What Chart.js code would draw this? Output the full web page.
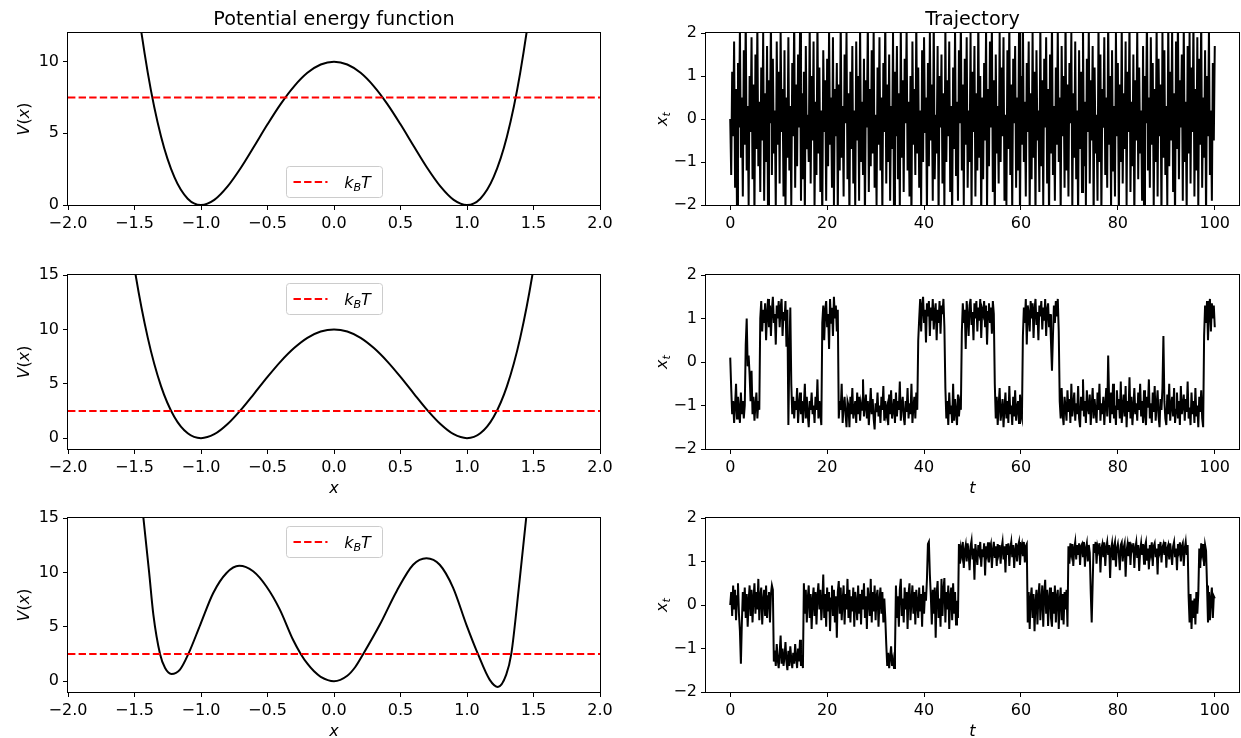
<!DOCTYPE html>
<html>
<head>
<meta charset="utf-8">
<script src="https://cdn.jsdelivr.net/npm/chart.js@4.4.1/dist/chart.umd.min.js"></script>
<style>
  html, body { margin: 0; padding: 0; background: #fff; overflow: hidden; }
  #fig { position: relative; width: 1241px; height: 738px; overflow: hidden; }
  canvas { position: absolute; }
</style>
</head>
<body>
<div id="fig">
  <canvas id="pot1" width="620" height="245" style="left:0;top:0"></canvas>
  <canvas id="traj1" width="601" height="245" style="left:640px;top:0"></canvas>
  <canvas id="pot2" width="620" height="255" style="left:0;top:245px"></canvas>
  <canvas id="traj2" width="601" height="255" style="left:640px;top:245px"></canvas>
  <canvas id="pot3" width="620" height="248" style="left:0;top:500px"></canvas>
  <canvas id="traj3" width="601" height="248" style="left:640px;top:500px"></canvas>
</div>
<script>
const wellX = [-1.6, -1.5, -1.4, -1.3, -1.2, -1.1, -1.0, -0.9, -0.8, -0.7, -0.6, -0.5, -0.4, -0.3, -0.2, -0.1, 0,
  0.1, 0.2, 0.3, 0.4, 0.5, 0.6, 0.7, 0.8, 0.9, 1.0, 1.1, 1.2, 1.3, 1.4, 1.5, 1.6];
const wellV = [24.34, 15.63, 9.22, 4.76, 1.94, 0.44, 0, 0.36, 1.30, 2.60, 4.10, 5.63, 7.06, 8.28, 9.22, 9.80, 10,
  9.80, 9.22, 8.28, 7.06, 5.63, 4.10, 2.60, 1.30, 0.36, 0, 0.44, 1.94, 4.76, 9.22, 15.63, 24.34];

const tripleX = [-1.5, -1.433, -1.39, -1.358, -1.308, -1.27, -1.222, -1.158, -1.095, -1.005, -0.908, -0.808, -0.713,
  -0.608, -0.508, -0.408, -0.308, -0.25, -0.2, -0.15, -0.1, 0, 0.1, 0.16, 0.22, 0.345, 0.47, 0.595, 0.695, 0.795, 0.895,
  0.995, 1.082, 1.17, 1.232, 1.295, 1.333, 1.395, 1.445, 1.5];
const tripleV = [22, 15, 10, 6.1, 2.5, 1.2, 0.66, 1.06, 2.5, 5.2, 8.1, 9.94, 10.6,
  10.1, 8.7, 6.6, 3.8, 2.5, 1.6, 0.9, 0.4, 0, 0.5, 1.3, 2.5, 5.2, 8.25, 10.7, 11.3, 10.7, 8.6,
  5.2, 2.5, 0.14, -0.53, 0.6, 2.5, 9.2, 15, 22];

const kT = [7.5, 2.5, 2.5];

// trajectories x_t, evenly sampled from t = 0 to t = 100
const traj1 = [
  0.0, -1.3, 1.1, -0.4, 1.8, -1.6, 0.7, -2.2, 1.3, -0.2,
  2.1, -0.9, 0.5, -1.8, 1.6, -0.6, 2.4, -1.2, 0.3, -2.0,
  1.0, -0.3, 1.9, -1.4, 0.8, -2.3, 1.5, -0.7, 2.2, -1.1,
  0.4, -1.7, 1.2, -0.5, 2.0, -1.9, 0.6, -1.0, 1.7, -2.4,
  0.9, -0.1, 2.3, -1.3, 1.4, -0.8, 0.2, -2.1, 1.8, -0.6,
  1.1, -1.5, 2.1, -0.3, 0.7, -1.8, 1.6, -2.2, 0.5, -0.9,
  1.9, -1.2, 0.3, -2.0, 1.3, -0.4, 2.4, -1.6, 0.8, -1.1,
  1.5, -0.2, 2.0, -1.9, 0.6, -1.4, 1.1, -2.3, 1.7, -0.7,
  0.1, -1.0, 2.2, -1.5, 1.0, -0.5, 1.8, -2.1, 0.4, -1.3,
  2.3, -0.8, 1.2, -1.7, 0.2, -2.4, 1.6, -0.3, 0.9, -1.9,
  1.4, -1.1, 2.1, -0.6, 0.5, -1.6, 1.9, -2.0, 0.7, -0.4,
  1.3, -2.2, 0.8, -1.2, 2.4, -0.9, 0.3, -1.8, 1.5, -0.1,
  2.0, -1.4, 0.6, -2.3, 1.1, -0.7, 1.7, -1.5, 0.2, -2.1,
  1.8, -0.5, 1.0, -1.9, 2.2, -1.0, 0.4, -1.3, 1.4, -2.4,
  0.9, -0.2, 2.3, -1.7, 0.7, -1.1, 1.6, -0.8, 2.1, -1.6,
  0.1, -2.0, 1.2, -0.6, 1.9, -1.2, 0.5, -2.2, 1.3, -0.3,
  2.4, -1.5, 0.8, -1.0, 1.5, -1.9, 0.3, -0.7, 2.0, -2.3,
  1.1, -0.4, 1.7, -1.4, 0.6, -2.1, 2.2, -0.9, 0.9, -1.7,
  1.4, -0.1, 2.1, -1.2, 0.4, -1.8, 1.0, -2.4, 1.8, -0.6,
  0.7, -1.3, 2.3, -0.8, 1.2, -1.6, 0.2, -2.0, 1.6, -1.0,
  1.9, -0.3, 0.5, -2.2, 1.3, -1.1, 2.0, -0.5, 0.8, -1.9,
  2.4, -1.4, 0.1, -0.8, 1.7, -2.3, 1.0, -0.2, 1.5, -1.5,
  0.6, -2.1, 2.2, -1.0, 0.9, -0.4, 1.8, -1.7, 0.3, -2.4,
  1.2, -0.7, 2.1, -1.3, 0.4, -1.9, 1.6, -0.1, 2.3, -1.2,
  0.8, -2.0, 1.4, -0.6, 1.9, -1.6, 0.2, -1.0, 2.0, -2.2,
  1.1, -0.3, 1.7, -1.8, 0.6, -1.2, 2.4, -0.9, 1.0, -2.3,
  0.5, -1.4, 1.3, -0.5, 2.1, -2.1, 0.7, -1.1, 1.8, -0.2,
  2.2, -1.7, 0.9, -2.4, 1.5, -0.8, 0.3, -1.5, 2.0, -1.0,
  1.2, -0.4, 1.9, -1.9, 0.1, -2.0, 1.6, -0.7, 2.3, -1.3,
  0.8, -2.2, 1.4, -0.1, 1.7, -1.6, 0.5, -1.2, 2.1, -2.4,
  1.0, -0.6, 2.4, -1.0, 0.4, -1.8, 1.3, -0.3, 1.8, -2.1,
  0.6, -1.4, 2.0, -0.9, 1.1, -2.3, 1.6, -0.5, 0.2, -1.7,
  2.2, -1.1, 0.9, -2.0, 1.4, -0.2, 1.9, -1.5, 0.7, -2.4,
  1.5, -0.8, 2.3, -1.3, 0.3, -1.9, 1.2, -0.6, 2.1, -1.0,
  0.5, -2.2, 1.7, -0.4, 1.0, -1.6, 2.4, -1.2, 0.8, -1.8,
  1.3, -0.1, 2.0, -2.1, 0.6, -0.9, 1.8, -1.4, 0.2, -2.3,
  1.6, -0.7, 1.1, -1.7, 2.3, -1.1, 0.4, -2.0, 1.4, -0.3,
  2.1, -1.5, 0.9, -0.5, 1.7, -2.4, 1.2, -0.8, 0.1, -1.9,
  2.2, -1.0, 1.5, -2.2, 0.7, -0.2, 1.9, -1.3, 0.5, -1.6,
  2.4, -0.6, 1.0, -2.1, 1.6, -1.2, 0.3, -1.8, 2.0, -0.4,
  1.3, -2.3, 0.8, -1.0, 2.2, -1.5, 0.6, -0.7, 1.8, -2.0,
  1.1, -0.3, 2.3, -1.7, 0.4, -1.1, 1.5, -2.4, 0.9, -0.5,
  2.1, -1.4, 1.2, -0.8, 0.2, -1.9, 1.7, -2.2, 1.0, -0.1,
  2.4, -1.2, 0.5, -1.6, 1.9, -0.6, 1.3, -2.1, 0.7, -1.0,
  2.2, -1.8, 1.4, -0.4, 0.8, -2.3, 2.0, -0.9, 1.6, -1.3,
  0.3, -2.0, 2.3, -1.1, 1.1, -0.5, 2.1, -1.7, 0.6, -2.4,
  1.8, -0.7, 2.4, -1.4, 0.9, -0.2, 1.5, -1.9, 2.2, -1.0,
  0.4, -2.2, 1.7, -0.8, 2.0, -1.5, 1.2, -0.3, 2.3, -1.8,
  0.7, -1.2, 1.9, -2.1, 1.4, -0.6, 2.4, -1.6, 0.5, -0.9,
  1.6, -2.3, 1.0, -0.4, 2.1, -1.3, 0.2, -1.9, 1.3, -0.5,
  1.7
];

const traj2 = [
  0.1,
  -0.6, -1.2, -0.9, -1.4, -1.0, -0.5, -1.3, -0.8, -1.1, -1.4, -0.7, -1.2, -0.9, -1.3, -1.0, 0.4,
  1.0,
  -0.1, 0.15, -0.3, -0.9, -0.2, -1.2, -0.8, -1.35, -1.0, -0.7, -1.3, -0.9, -1.1,
  1.0, 1.4, 0.7, 1.2, 0.9, 1.35, 0.5, 1.1, 1.45, 0.8,
  1.3, 0.6, 1.2, 1.5, 0.9, 1.1, 0.4, 1.3, 1.0, 1.4,
  0.8, 1.25, 1.45, 0.6, 1.15, 0.95, 1.4, 0.35, 1.2,
  -1.45, 0.2, 1.25, -0.5,
  -1.2, -0.8, -1.3, -0.9, -1.1, -0.6, -1.4, -1.0, -0.7, -1.2,
  -0.9, -1.4, -1.0, -0.5, -1.3, -0.8, -1.2, -1.5, -0.9, -1.1,
  -0.7, -1.2, -1.0, -1.4, -0.8, -1.1, -0.4, -1.3, -0.9, -1.2, -1.45,
  0.9, 1.3, 0.5, 1.2, 1.4, 0.8, 1.1, 0.3, 1.45, 0.9,
  1.25, 0.6, 1.5, 1.0, 1.3, 0.7, 1.2,
  -1.3, -0.9, -1.1, -0.5, -1.4, -1.0, -0.8, -1.2, -1.5, -0.9,
  -1.0, -1.5, -0.8, -1.2, -0.6, -1.3, -1.1, -0.9, -1.4, -0.7,
  -1.2, -0.8, -1.35, -0.95, -1.1, -0.4, -1.25, -1.0, -0.75, -1.3,
  -0.9, -1.45, -1.05, -0.6, -1.2, -0.85, -1.3, -1.55, -0.95, -1.15,
  -0.7, -1.25, -1.0, -1.4, -0.8, -1.1, -0.55, -1.35, -0.9, -1.2,
  -1.05, -1.45, -0.75, -1.2, -0.65, -1.3, -1.1, -0.85, -1.4, -0.7,
  -1.25, -0.9, -1.1, -0.45, -1.35, -1.0, -0.8, -1.25, -1.45, -0.9,
  -1.15, -0.6, -1.3, -0.95, -1.2, -0.5, -1.4, -1.05, -0.8, -1.3,
  -0.7, -1.1,
  0.5, 1.0, 1.45, 0.7, 1.3, 1.5, 0.9, 1.2, 0.45, 1.35,
  1.05, 1.4, 0.6, 1.25, 0.95, 1.45, 0.75, 1.15, 1.35, 0.5,
  1.2, 0.9, 1.4, 0.65, 1.3, 1.1, 1.45, 0.8,
  -0.6, -1.3, -0.9, -1.45, -0.7, -1.2, -1.0, -1.4, -0.5, -1.35,
  -0.85, -1.15, -1.45, -0.75, -1.25, -0.95, -1.1,
  0.7, 1.35, 0.9, 1.2, 0.3, 1.4, 1.05, 0.6, 1.3, 1.45,
  0.85, 1.15, 0.5, 1.35, 1.0, 1.4, 0.7, 1.25, 0.95, 1.45,
  0.55, 1.2, 1.1, 1.4, 0.8, 1.3, 0.4, 1.15, 1.35, 0.9,
  1.25, 0.65, 1.4, 1.1,
  -0.5, -1.3, -0.8, -1.45, -1.0, -0.6, -1.35, -1.15, -0.85, -1.5,
  -1.05, -0.7, -1.3, -0.9, -1.4, -0.55, -1.2, -1.0, -1.45, -0.8,
  -1.25, -0.65, -1.35, -1.05, -0.9, -1.4, -0.75, -1.2, -1.3,
  0.6, 1.25, 0.9, 1.45, 0.4, 1.3, 1.1, 0.7, 1.4, 1.0,
  1.35, 0.55, 1.2, 1.45, 0.85, 1.15, 0.5, 1.3, 1.05, 1.4,
  0.75, 1.25, 0.95, 1.45, 0.6, 1.2, 1.35, 0.8, 1.1, 0.45,
  -0.2, 0.6, 1.3, 0.9, 1.4, 1.05, 1.45, 0.7,
  -0.9, -1.3, -0.6, -1.2, -1.45, -0.8, -1.05, -1.35, -0.65, -1.15,
  -0.85, -1.4, -0.5, -1.25, -1.0, -0.7, -1.35, -0.95, -1.2, -0.55,
  -1.3, -1.5, -0.8, -1.1, -0.4, -1.25, -0.9, -1.4, -0.65, -1.05,
  -1.2, -0.75, -1.45, -1.0, -0.6, -1.3, -0.85, -1.15, -1.4, -0.7,
  -1.1, -0.5, -1.35, -0.95, -1.2, -0.8, -1.45, -1.0, -0.6, -1.25,
  0.15, -0.9, -1.4, -0.7, -1.2, -0.5, -1.3, -1.0, -1.45, -0.65,
  -1.1, -0.85, -1.3, -0.45, -1.4, -1.05, -0.75, -1.25, -0.55, -1.5,
  -0.9, -1.15, -0.35, -1.3, -0.8, -1.45, -1.05, -0.6, -1.2, -0.95,
  -1.35, -0.7, -1.1, -0.5, -1.25, -0.9, -1.4, -0.65, -1.2, -1.45,
  -0.8, -1.05, -0.4, -1.3, -0.95, -1.4, -0.7, -1.15, -0.55, -1.35,
  -1.0, -0.65, -1.25, -1.5, -0.85, -1.1, -0.6, 0.6, -0.9, -1.3,
  -1.45, -0.75, -1.2, -0.5, -1.35, -1.0, -0.8, -1.25, -0.6, -1.4,
  -1.1, -0.7, -1.3, -0.9, -1.45, -0.55, -1.2, -1.0, -0.75, -1.35,
  -0.85, -1.15, -0.45, -1.3, -1.05, -1.45, -0.7, -1.2, -0.9, -1.4,
  -0.6, -1.25, -1.0, -1.5, -0.8, -1.15, -0.65, -1.3, -1.5,
  0.6, 1.3, 0.9, 1.4, 0.5, 1.2, 1.45, 0.7, 1.35, 1.0, 1.3, 0.8
];

const traj3 = [
  0.0, 0.3, -0.25, 0.45, -0.1, 0.35, -0.35, 0.2, 0.5, -0.2,
  -0.6, -1.35, -0.4, 0.3, -0.15, 0.4, -0.3, 0.25, -0.5, 0.1,
  0.45, -0.25, 0.35, -0.4, 0.15, 0.5, -0.2, 0.3, -0.1, 0.6,
  -0.35, 0.2, 0.4, -0.45, 0.1, 0.35, -0.25, 0.45, -0.3, 0.2,
  0.3, -0.4, 0.25, 0.45, 0.35,
  -1.3, -1.05, -1.4, -0.9, -1.25, -1.45, -1.1, -0.7, -1.35, -1.0,
  -1.4, -1.2, -0.85, -1.3, -1.5, -1.05, -1.4, -0.95, -1.25, -1.45,
  -1.1, -1.35, -0.9, -1.2, -1.45, -1.0, -1.3, -0.8, -1.4, -1.15, -1.45,
  0.5, -0.2, 0.35, -0.4, 0.15, 0.45, -0.3, 0.25, -0.55, 0.1,
  0.4, -0.25, 0.3, -0.45, 0.2, 0.5, -0.1, 0.35, -0.35, 0.05,
  0.7, -0.3, 0.25, -0.5, 0.4, -0.15, 0.3, -0.6, 0.15, 0.45,
  -0.25, 0.35, -0.4, 0.2, -0.75, 0.3, 0.55, -0.2, 0.4, -0.35,
  0.1, 0.45, -0.45, 0.25, -0.1, 0.6, -0.3, 0.35, -0.4, 0.2,
  -0.15, 0.4, -0.5, 0.3, 0.05, -0.35, 0.45, -0.2, 0.25, -0.45,
  0.35, -0.1, 0.5, -0.3, 0.2, -0.55, 0.4, 0.1, -0.25, 0.6,
  -0.4, 0.3, -0.15, 0.45, -0.35, 0.2, 0.35, -0.5, 0.1, 0.4,
  -0.2, 0.3, -0.4, 0.15, -0.3,
  -0.9, -1.4, -1.1, -1.45, -1.2, -0.95, -1.4, -1.25, -1.45, -1.1,
  0.45, -0.3, 0.2, -0.5, 0.35, 0.6, -0.25, 0.15, -0.4, 0.4,
  -0.1, 0.3, -0.55, 0.25, 0.5, -0.35, 0.1, 0.45, -0.2, 0.3,
  -0.45, 0.35, 0.05, -0.3, 0.4, -0.15, 0.25, -0.5, 0.45, -0.2,
  0.3, 0.1,
  0.6, 1.4, 1.45, 0.7,
  0.2, -0.45, 0.35, -0.2, 0.4, -0.75, 0.25, 0.55, -0.3, 0.15,
  -0.5, 0.6, -0.25, 0.35, 0.62, -0.4, 0.3, -0.1, 0.45, -0.55,
  0.2, 0.4, -0.35, 0.5, -0.2, 0.3, -0.45, 0.1, -0.3,
  1.4, 0.95, 1.3, 1.15, 1.45, 0.85, 1.25, 1.38, 1.0, 1.42,
  1.2, 0.8, 1.35, 1.48, 1.05, 1.3, 0.58, 1.4, 1.15, 0.92,
  1.38, 1.22, 1.45, 0.88, 1.28, 1.1, 1.42, 0.68, 1.35, 1.18,
  1.44, 0.98, 1.3, 1.4, 0.85, 1.25, 1.45, 1.08, 1.35, 0.9,
  1.4, 1.2, 1.38, 0.95, 1.3, 1.45, 1.05, 1.35, 0.75, 1.4,
  1.15, 1.42, 0.9, 1.3, 1.45, 1.1, 1.38, 0.85, 1.25, 1.42,
  1.0, 1.35, 1.45, 0.92, 1.3, 1.4, 1.12, 1.45, 0.98, 1.35, 1.4,
  -0.4, 0.3, -0.55, 0.15, 0.4, -0.3, 0.25, -0.6, 0.05, 0.35,
  -0.45, 0.2, 0.5, -0.35, 0.1, 0.45, -0.5, 0.25, 0.58, -0.2,
  0.35, -0.48, 0.15, 0.4, -0.3, -0.5, 0.3, -0.2, 0.45, -0.4,
  0.2, 0.35, -0.55, 0.1, 0.4, -0.35, 0.25, -0.45, 0.3, -0.1,
  0.35, -0.5,
  1.35, 0.95, 1.42, 1.2, 1.4, 0.9, 1.3, 1.45, 1.05, 1.38,
  1.15, 1.42, 0.92, 1.35, 1.4, 1.1, 1.45, 0.88, 1.3, 1.42,
  1.0, 1.38, 1.2,
  0.3, -0.4, 0.5,
  1.4, 1.2, 1.45, 0.95, 1.35, 1.25, 1.42, 0.75, 1.3, 1.4,
  1.1, 1.44, 0.9, 1.32, 1.45, 1.15, 1.38, 0.62, 1.28, 1.42,
  1.05, 1.35, 1.45, 0.88, 1.3, 1.4, 1.18, 0.8, 1.38, 1.44,
  1.0, 1.32, 1.42, 0.65, 1.25, 1.4, 1.12, 1.45, 0.92, 1.35,
  1.28, 1.42, 0.85, 1.3, 1.44, 1.08, 1.38, 0.78, 1.25, 1.42,
  1.15, 1.4, 0.95, 1.35, 1.45, 1.02, 1.3, 0.82, 1.38, 1.2,
  1.44, 0.9, 1.35, 1.42, 1.1, 1.3, 0.7, 1.4, 1.25, 1.45,
  0.98, 1.32, 1.4, 1.15, 1.45, 0.86, 1.3, 1.38, 1.05, 1.42,
  1.2, 0.92, 1.35, 1.45, 1.1, 1.3, 0.8, 1.4, 1.25, 1.44,
  1.0, 1.35, 1.42, 0.9, 1.3, 1.45, 1.15, 1.38,
  0.2, -0.4, 0.25, -0.55, 0.1, -0.3, 0.15, -0.45, 0.3, -0.2, 0.25,
  1.3, 0.85, 1.42, 1.2, 1.4, 0.9, 1.38, 1.25,
  0.45, -0.4, 0.3, -0.35, 0.15, 0.4, -0.3, 0.2, 0.15
];
const tStart = 0, tEnd = 100;

// ticks
const potXTicks = [-2, -1.5, -1, -0.5, 0, 0.5, 1, 1.5, 2];
const potYTicks1 = [0, 5, 10];
const potYTicks = [0, 5, 10, 15];
const trajXTicks = [0, 20, 40, 60, 80, 100];
const trajYTicks = [-2, -1, 0, 1, 2];

const FAMILY = '"DejaVu Sans", sans-serif';
Chart.defaults.font.family = FAMILY;

const minus = v => (v < 0 ? '\u2212' : '') + Math.abs(v);
const minus1 = v => (v < 0 ? '\u2212' : '') + Math.abs(v).toFixed(1);

// little mathtext-ish helper: parts = [{t, i (italic), sub}]
function partFont(p, size) {
  return (p.i ? 'italic ' : '') + (p.sub ? size * 0.7 : size) + 'px ' + FAMILY;
}
function drawParts(ctx, parts, size, x, base) {
  let w = 0;
  parts.forEach(p => { ctx.font = partFont(p, size); w += ctx.measureText(p.t).width; });
  let cx = x - w / 2;
  ctx.textAlign = 'left';
  ctx.textBaseline = 'alphabetic';
  ctx.fillStyle = '#000';
  parts.forEach(p => {
    ctx.font = partFont(p, size);
    ctx.fillText(p.t, cx, base + (p.sub ? size * 0.22 : 0));
    cx += ctx.measureText(p.t).width;
  });
}

const V_LABEL = [{t: 'V', i: true}, {t: '('}, {t: 'x', i: true}, {t: ')'}];
const XT_LABEL = [{t: 'x', i: true}, {t: 't', i: true, sub: true}];
const KT_LABEL = [{t: 'k', i: true}, {t: 'B', i: true, sub: true}, {t: 'T', i: true}];

const decor = {
  id: 'decor',
  afterDatasetsDraw(chart, args, o) {
    const ctx = chart.ctx;
    const a = chart.chartArea;
    ctx.save();
    // axes frame
    ctx.strokeStyle = '#000';
    ctx.lineWidth = 1;
    ctx.strokeRect(Math.round(a.left) - 0.5, Math.round(a.top) - 0.5,
      Math.round(a.right - a.left) + 1, Math.round(a.bottom - a.top) + 1);
    const midX = (a.left + a.right) / 2;
    if (o.title) {
      ctx.font = '19.2px ' + FAMILY;
      ctx.fillStyle = '#000';
      ctx.textAlign = 'center';
      ctx.textBaseline = 'alphabetic';
      ctx.fillText(o.title, midX, a.top - 8);
    }
    if (o.xLabel) {
      drawParts(ctx, [{t: o.xLabel, i: true}], 16, midX, a.bottom + 44);
    }
    if (o.yLabel) {
      ctx.save();
      ctx.translate(a.left - 45, (a.top + a.bottom) / 2);
      ctx.rotate(-Math.PI / 2);
      drawParts(ctx, o.yLabel, 16, 0, 5.5);
      ctx.restore();
    }
    if (o.legend) {
      const w = 96, h = 31;
      const x = Math.round(midX - w / 2) + 0.5;
      const y = (o.legend === 'top' ? Math.round(a.top + 8) : Math.round(a.bottom - 8 - h)) + 0.5;
      ctx.beginPath();
      ctx.roundRect(x, y, w, h, 3);
      ctx.fillStyle = 'rgba(255,255,255,0.8)';
      ctx.fill();
      ctx.strokeStyle = '#cccccc';
      ctx.stroke();
      ctx.beginPath();
      ctx.setLineDash([7.4, 3.2]);
      ctx.strokeStyle = '#ff0000';
      ctx.lineWidth = 2;
      ctx.moveTo(x + 7, y + h / 2);
      ctx.lineTo(x + 41, y + h / 2);
      ctx.stroke();
      ctx.setLineDash([]);
      drawParts(ctx, KT_LABEL, 16, x + 71, y + h / 2 + 5.5);
    }
    ctx.restore();
  }
};

function axis(min, max, ticks, fmt, fit, isX) {
  return {
    type: 'linear', min, max,
    afterBuildTicks: s => { s.ticks = ticks.map(v => ({value: v})); },
    afterFit: s => { if (isX) s.height = fit; else s.width = fit; },
    border: {display: false},
    grid: {display: true, drawOnChartArea: false, drawTicks: true, tickLength: 5, color: '#000', tickColor: '#000', tickWidth: 1},
    ticks: {color: '#000', font: {size: 16}, padding: 4, maxRotation: 0, autoSkip: false, callback: fmt}
  };
}

function options(padTop, padRight, x, y, dec) {
  return {
    responsive: false,
    animation: false,
    devicePixelRatio: 1,
    events: [],
    layout: {padding: {top: padTop, right: padRight, left: 0, bottom: 0}},
    scales: {x, y},
    plugins: {legend: {display: false}, tooltip: {enabled: false}, decor: dec}
  };
}

function potentialChart(id, xs, vs, level, yMin, yMax, yTicks, padTop, xFit, dec) {
  return new Chart(document.getElementById(id), {
    type: 'line',
    data: {
      datasets: [
        { data: [{x: potXTicks[0], y: level}, {x: potXTicks[potXTicks.length - 1], y: level}],
          borderColor: '#ff0000', borderWidth: 2, borderDash: [7.4, 3.2], pointRadius: 0, clip: 0 },
        { data: xs.map((x, i) => ({x, y: vs[i]})),
          borderColor: '#000', borderWidth: 2, pointRadius: 0, cubicInterpolationMode: 'monotone', clip: 0 }
      ]
    },
    options: options(padTop, 20,
      axis(-2, 2, potXTicks, minus1, xFit, true),
      axis(yMin, yMax, yTicks, minus, 68, false), dec),
    plugins: [decor]
  });
}

function trajectoryChart(id, values, padTop, xFit, dec) {
  const n = values.length;
  return new Chart(document.getElementById(id), {
    type: 'line',
    data: {
      datasets: [{
        data: values.map((v, i) => ({x: tStart + (tEnd - tStart) * i / (n - 1), y: v})),
        borderColor: '#000', borderWidth: 2, pointRadius: 0, tension: 0, clip: 0
      }]
    },
    options: options(padTop, 2,
      axis(-5, 105, trajXTicks, minus, xFit, true),
      axis(-2, 2, trajYTicks, minus, 66, false), dec),
    plugins: [decor]
  });
}

potentialChart('pot1', wellX, wellV, kT[0], 0, 12, potYTicks1, 33, 40,
  {title: 'Potential energy function', yLabel: V_LABEL, legend: 'bottom'});
potentialChart('pot2', wellX, wellV, kT[1], -1, 15, potYTicks, 30, 51,
  {xLabel: 'x', yLabel: V_LABEL, legend: 'top'});
potentialChart('pot3', tripleX, tripleV, kT[2], -1, 15, potYTicks, 18, 56,
  {xLabel: 'x', yLabel: V_LABEL, legend: 'top'});

trajectoryChart('traj1', traj1, 33, 40, {title: 'Trajectory', yLabel: XT_LABEL});
trajectoryChart('traj2', traj2, 30, 51, {xLabel: 't', yLabel: XT_LABEL});
trajectoryChart('traj3', traj3, 18, 56, {xLabel: 't', yLabel: XT_LABEL});
</script>
</body>
</html>
